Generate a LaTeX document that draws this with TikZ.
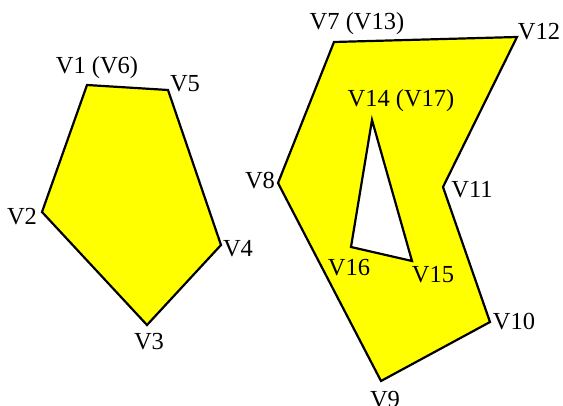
\documentclass[tikz,border=0pt]{standalone}
\usepackage{fontspec}
\setmainfont{Liberation Serif}
\definecolor{polyyellow}{RGB}{255,255,0}
\begin{document}
\begin{tikzpicture}[x=1pt,y=-1pt,
  poly/.style={draw=black,line width=2.2pt,fill=polyyellow,line join=miter,even odd rule},
  lbl/.style={font=\fontsize{24.5}{26}\selectfont,inner sep=0pt,text=black}]
\useasboundingbox (0,0) rectangle (563,406);
% left pentagon
\coordinate (v1) at (87,85);
\coordinate (v5) at (168,90);
\coordinate (v4) at (221,245);
\coordinate (v3) at (147,325);
\coordinate (v2) at (42,212);
\draw[poly] (v1) -- (v5) -- (v4) -- (v3) -- (v2) -- cycle;
% right polygon with hole
\coordinate (v7) at (334,42);
\coordinate (v12) at (517,37);
\coordinate (v11) at (443,187);
\coordinate (v10) at (490,322);
\coordinate (v9) at (381,381);
\coordinate (v8) at (278,183);
\coordinate (v14) at (372,120);
\coordinate (v15) at (412,261);
\coordinate (v16) at (351,247);
\draw[poly] (v7) -- (v12) -- (v11) -- (v10) -- (v9) -- (v8) -- cycle
  (v14) -- (v15) -- (v16) -- cycle;
% labels
\node[lbl] (l1) at (97,68) {V1 (V6)};
\node[lbl] (l5) at (185,84) {V5};
\node[lbl] (l2) at (22,217) {V2};
\node[lbl] (l4) at (238,249) {V4};
\node[lbl] (l3) at (149,342) {V3};
\node[lbl] (l7) at (357,24) {V7 (V13)};
\node[lbl] (l12) at (539,32) {V12};
\node[lbl] (l14) at (401,101) {V14 (V17)};
\node[lbl] (l11) at (472,190) {V11};
\node[lbl] (l8) at (260,181) {V8};
\node[lbl] (l16) at (349,268) {V16};
\node[lbl] (l15) at (433,275) {V15};
\node[lbl] (l10) at (514,322) {V10};
\node[lbl] (l9) at (385,400) {V9};
\end{tikzpicture}
\end{document}
